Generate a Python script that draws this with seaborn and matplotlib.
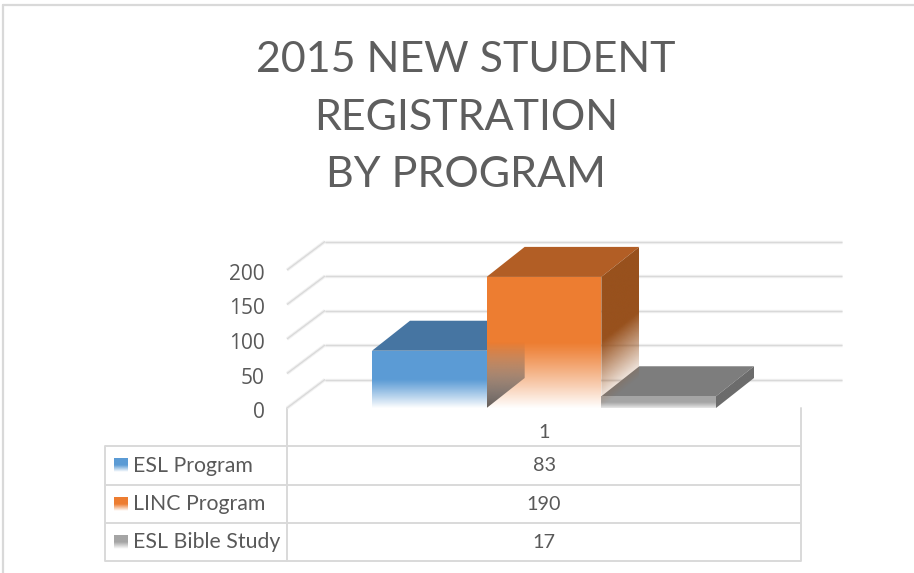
import numpy as np
import matplotlib
matplotlib.use("Agg")
import matplotlib.pyplot as plt
from matplotlib.colors import to_rgb
from matplotlib.path import Path
from matplotlib.patches import Polygon
from matplotlib.transforms import ScaledTranslation
import seaborn as sns

# ---- data ----
TITLE_LINES = ["2015 NEW STUDENT", "REGISTRATION", "BY PROGRAM"]
PROGRAMS = ["ESL Program", "LINC Program", "ESL Bible Study"]
VALUES = [83, 190, 17]
CATEGORY = "1"
Y_TICKS = [0, 50, 100, 150, 200]
FRONT = ["#5b9bd5", "#ed7d31", "#a5a5a5"]
TOP = ["#4675a2", "#b25e25", "#7d7d7d"]
SIDE = ["#3d6690", "#98511d", "#6c6c6c"]
TEXT = "#595959"
LINE = "#d9d9d9"

W, H = 914, 573
sns.set_theme(style="white")
plt.rcParams["font.family"] = ["Lato", "DejaVu Sans"]

fig = plt.figure(figsize=(W / 100, H / 100), dpi=100, facecolor="white")

# overlay in pixel coordinates for frame, title and data table
tab = fig.add_axes([0, 0, 1, 1], zorder=0)
tab.set_xlim(0, W); tab.set_ylim(H, 0); tab.axis("off")

# plot axes: left 287 .. right 801, y=0 at px 408, top at px 240
L, R, B, T = 287, 801, 408, 240
ax = fig.add_axes([L / W, 1 - B / H, (R - L) / W, (B - T) / H], zorder=1)
ax.patch.set_alpha(0)
PX_Y = 0.69                # pixels per value unit
PX_X = 344 / 3             # pixels per category
sns.barplot(x=PROGRAMS, y=VALUES, hue=PROGRAMS, palette=FRONT, width=1, saturation=1,
            legend=False, ax=ax, order=PROGRAMS, hue_order=PROGRAMS, linewidth=0)
ax.set_xlim(-0.5 - (372 - L) / PX_X, 2.5 + (R - 716) / PX_X)
ax.set_ylim(0, (B - T) / PX_Y)
XL, YL = ax.get_xlim(), ax.get_ylim()

DX = 38 / PX_X             # bar depth
DY = 30 / PX_Y
GX = 38 / PX_X             # wall depth
GY = 28.5 / PX_Y

for s in ax.spines.values():
    s.set_visible(False)
ax.set_xticks([]); ax.set_xlabel(""); ax.set_ylabel("")
ax.set_yticks(Y_TICKS)
ax.tick_params(axis="y", length=0, pad=16, labelsize=15, labelcolor=TEXT)
shift = ScaledTranslation(0, -2 / 100, fig.dpi_scale_trans)
for lab in ax.get_yticklabels():
    lab.set_fontfamily(["Open Sans", "DejaVu Sans"])
    lab.set_transform(lab.get_transform() + shift)

# walls
for v in Y_TICKS:
    for lw, col in [(2.4, "#f0f0f0"), (0.9, LINE)]:
        ax.plot([XL[0] + GX, XL[1] + GX + 3 / PX_X], [v + GY, v + GY], color=col, lw=lw,
                clip_on=False, zorder=0.5, solid_capstyle="butt")
        ax.plot([XL[0], XL[0] + GX], [v, v + GY], color=col, lw=lw,
                clip_on=False, zorder=0.5, solid_capstyle="butt")


def shade(verts, color, alpha_fn, z):
    """Paint polygon verts with colour whose alpha is a function of data position."""
    v = np.array(verts, float)
    x0, x1, y0, y1 = v[:, 0].min(), v[:, 0].max(), v[:, 1].min(), v[:, 1].max()
    xs, ys = np.linspace(x0, x1, 160), np.linspace(y0, y1, 300)
    X, Y = np.meshgrid(xs, ys)
    img = np.zeros(X.shape + (4,))
    img[..., :3] = to_rgb(color)
    img[..., 3] = np.clip(alpha_fn(X, Y), 0, 1)
    im = ax.imshow(img, extent=(x0, x1, y0, y1), origin="lower", aspect="auto",
                   interpolation="bilinear", zorder=z)
    im.set_clip_path(Path(np.vstack([v, v[:1]])), ax.transData)


bars = list(ax.patches)
Z = {0: 2, 1: 4, 2: 3}
slope = DY / DX
for i, p in enumerate(bars):
    x0, w, h = p.get_x(), p.get_width(), p.get_height()
    x1 = x0 + w
    z = Z[i]
    mid = h * 0.5
    p.set_zorder(z + 0.2)
    # top face
    ax.add_patch(Polygon([(x0, h), (x0 + DX, h + DY), (x1 + DX, h + DY), (x1, h)],
                         closed=True, fc=TOP[i], ec="none", zorder=z))
    # side face, fading towards the floor along its skew (only the tall bar shows it)
    fade_side = 1.0 if i == 1 else 0.0
    shade([(x1, 0), (x1 + DX, DY), (x1 + DX, h + DY), (x1, h)], SIDE[i],
          lambda X, Y, x1=x1, mid=mid, fs=fade_side:
              1 - np.clip((mid - (Y - (X - x1) * slope)) / mid, 0, 1) * fs,
          z + 0.1)
    # front face fade to white in its lower half
    strength = 1.0 if i != 2 else 0.75
    shade([(x0, 0), (x1, 0), (x1, h), (x0, h)], "white",
          lambda X, Y, mid=mid, s=strength: np.clip((mid - Y) / mid, 0, 1) ** 1.1 * s, z + 0.3)
    # inner left wall seen through the faded front of the tall bar
    if i == 1:
        shade([(x0, 0), (x0 + DX, DY), (x0 + DX, h + DY), (x0, h)], "#5c5450",
              lambda X, Y, mid=mid: np.clip((mid - Y) / mid, 0, 1) ** 0.9 * 0.95, z + 0.4)

ax.set_xlim(XL); ax.set_ylim(YL)

# frame
tab.plot([3, W], [5, 5], color=LINE, lw=1.6)
tab.plot([3, 3], [5, H], color=LINE, lw=1.6)

# title
for line, yc in zip(TITLE_LINES, [60, 117.5, 175]):
    tab.text(466, yc, line, ha="center", va="center", fontsize=31, color="#5e5e5e",
             fontfamily=["Lato", "DejaVu Sans"], fontweight="normal")

# data table
ROWS_Y = [446, 484.5, 523, 561]
for y in ROWS_Y:
    tab.plot([105, 801], [y, y], color=LINE, lw=1.4, solid_capstyle="butt")
tab.plot([105, 105], [446, 561], color=LINE, lw=1.4)
for x in (287, 801):
    tab.plot([x, x], [408, 561], color=LINE, lw=1.4)
CX = (287 + 801) / 2
tab.text(CX, 432.5, CATEGORY, ha="center", va="center", fontsize=14.2, color=TEXT)
for k, (name, val, col) in enumerate(zip(PROGRAMS, VALUES, FRONT)):
    yc = (ROWS_Y[k] + ROWS_Y[k + 1]) / 2
    tab.text(133, yc + 0.5, name, ha="left", va="center", fontsize=15.3, color=TEXT)
    tab.text(CX, yc + 0.5, str(val), ha="center", va="center", fontsize=14.2, color=TEXT)
    grad = np.ones((40, 1, 4))
    grad[..., :3] = to_rgb(col)
    grad[:, 0, 3] = np.clip(1 - (np.linspace(0, 1, 40) - 0.5) / 0.5, 0, 1)
    tab.imshow(grad, extent=(113.5, 127.5, yc + 7, yc - 7), aspect="auto", zorder=3)
tab.set_xlim(0, W); tab.set_ylim(H, 0)

fig.savefig("out.png", dpi=100, facecolor="white")
